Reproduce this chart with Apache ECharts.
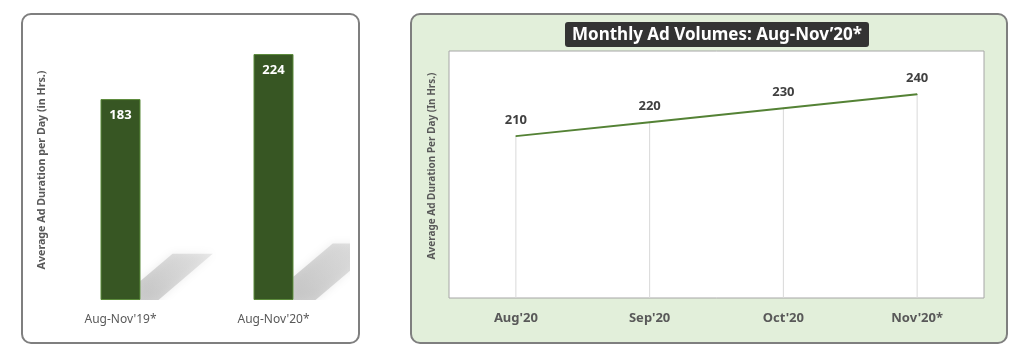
<!DOCTYPE html>
<html>
<head>
<meta charset="utf-8">
<script src="https://cdn.jsdelivr.net/npm/echarts@6/dist/echarts.min.js"></script>
<style>html,body{margin:0;padding:0;background:#fff;}#c{width:1024px;height:361px;}</style>
</head>
<body>
<div id="c"></div>
<script>
var barCategories = ["Aug-Nov'19*", "Aug-Nov'20*"];
var barValues = [183, 224];
var lineCategories = ["Aug'20", "Sep'20", "Oct'20", "Nov'20*"];
var lineValues = [210, 220, 230, 240];
var leftAxisTitle = "Average Ad Duration per Day (in Hrs.)";
var rightAxisTitle = "Average Ad Duration Per Day (In Hrs.)";
var rightTitle = "Monthly Ad Volumes: Aug-Nov\u201920*";

var FONT = "'Noto Sans', sans-serif";
var chart = echarts.init(document.getElementById('c'), null, {renderer: 'canvas'});

function shadowItem(params, api) {
  var base = api.coord([api.value(0), 0]);
  var top = api.coord([api.value(0), api.value(1)]);
  var h = base[1] - top[1];
  var bw = api.size([1, 0])[0] * 0.26;
  var x0 = base[0] + bw / 2;
  var y0 = base[1];
  var pts = [
    [x0, y0],
    [x0, y0 - 0.095 * h],
    [x0 + 0.16 * h, y0 - 0.23 * h],
    [x0 + 0.36 * h, y0 - 0.23 * h],
    [x0 + 0.09 * h, y0]
  ];
  return {
    type: 'polygon',
    shape: {points: pts},
    style: {
      fill: new echarts.graphic.LinearGradient(0, 1, 1, 0, [
        {offset: 0, color: 'rgba(160,160,160,0.5)'},
        {offset: 1, color: 'rgba(185,185,185,0.3)'}
      ]),
      shadowBlur: 8,
      shadowColor: 'rgba(180,180,180,0.6)'
    }
  };
}

chart.setOption({
  animation: false,
  title: {
    text: rightTitle,
    left: 710,
    textAlign: 'center',
    top: 22,
    backgroundColor: '#333333',
    borderRadius: 3,
    padding: [3, 7, 2, 7],
    textStyle: {color: '#ffffff', fontFamily: FONT, fontWeight: 'bold', fontSize: 17, lineHeight: 20}
  },
  graphic: [
    {type: 'rect', z: -10, shape: {x: 22, y: 14, width: 337, height: 329, r: 9},
      style: {fill: '#ffffff', stroke: '#7f7f7f', lineWidth: 2}},
    {type: 'rect', z: -10, shape: {x: 411, y: 14, width: 596, height: 329, r: 9},
      style: {fill: '#e2efda', stroke: '#7f7f7f', lineWidth: 2}},
    {type: 'text', x: 42, y: 170, rotation: Math.PI / 2,
      style: {text: leftAxisTitle, fill: '#595959', font: 'bold 10.7px ' + FONT, align: 'center', verticalAlign: 'middle'}},
    {type: 'text', x: 432, y: 166, rotation: Math.PI / 2,
      style: {text: rightAxisTitle, fill: '#595959', font: 'bold 10px ' + FONT, align: 'center', verticalAlign: 'middle'}}
  ],
  grid: [
    {left: 44, width: 306, top: 25.5, height: 274.5},
    {left: 449, width: 535, top: 51, height: 247, show: true, backgroundColor: '#ffffff', borderColor: '#a6a6a6', borderWidth: 1}
  ],
  xAxis: [
    {type: 'category', gridIndex: 0, data: barCategories,
      axisLine: {show: false}, axisTick: {show: false},
      axisLabel: {color: '#595959', fontFamily: FONT, fontSize: 12, margin: 14}},
    {type: 'category', gridIndex: 1, data: lineCategories,
      axisLine: {show: false}, axisTick: {show: false},
      axisLabel: {color: '#595959', fontFamily: FONT, fontWeight: 'bold', fontSize: 13, margin: 14}}
  ],
  yAxis: [
    {type: 'value', gridIndex: 0, min: 0, max: 250, show: false, splitLine: {show: false}},
    {type: 'value', gridIndex: 1, min: 94, max: 271, show: false, splitLine: {show: false}}
  ],
  series: [
    {type: 'custom', xAxisIndex: 0, yAxisIndex: 0, clip: true, z: 1,
      renderItem: shadowItem,
      data: barValues.map(function (v, i) { return [i, v]; })},
    {type: 'bar', xAxisIndex: 0, yAxisIndex: 0, data: barValues, barWidth: 40, z: 2,
      itemStyle: {color: '#375623', borderColor: '#5b8a3a', borderWidth: 1},
      label: {show: true, position: 'insideTop', distance: 10, color: '#ffffff', fontFamily: FONT, fontWeight: 'bold', fontSize: 13}},
    {type: 'bar', xAxisIndex: 1, yAxisIndex: 1, data: lineValues, barWidth: 1, z: 1, silent: true,
      itemStyle: {color: '#d9d9d9'}},
    {type: 'line', xAxisIndex: 1, yAxisIndex: 1, data: lineValues, z: 3,
      symbol: 'circle', symbolSize: 1, showSymbol: true,
      itemStyle: {color: '#548235'},
      lineStyle: {color: '#548235', width: 2},
      label: {show: true, position: 'top', distance: 9, color: '#404040', fontFamily: FONT, fontWeight: 'bold', fontSize: 13}}
  ]
});
</script>
</body>
</html>
